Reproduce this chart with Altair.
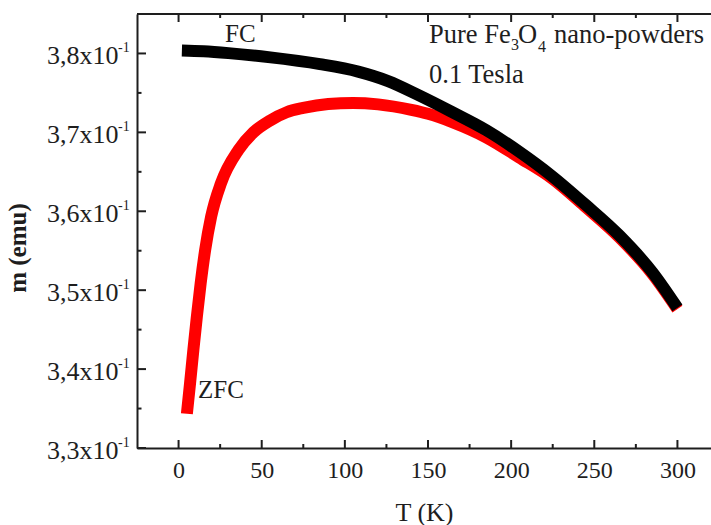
import altair as alt
import pandas as pd

# ---- data ----
T_FC = [2, 15, 30, 54, 85, 108, 126, 144, 164, 185, 205, 224, 245, 265, 285, 300]
M_FC = [0.38037, 0.38027, 0.38004, 0.37953, 0.37865, 0.37770, 0.37650, 0.37475,
        0.37263, 0.37028, 0.36752, 0.36455, 0.36078, 0.35695, 0.35225, 0.34775]

T_ZFC = [5.0, 6.9, 8.9, 11.0, 13.3, 16.0, 19.6, 25.5, 36.0, 45, 55, 65, 75, 90, 105,
         120, 140, 150, 165, 185, 205, 225, 245, 265, 285, 300]
M_ZFC = [0.33434, 0.33820, 0.34244, 0.34666, 0.35089, 0.35511, 0.35933, 0.36355,
         0.36776, 0.37000, 0.37150, 0.37255, 0.37310, 0.37360, 0.37373, 0.37355,
         0.37285, 0.37235, 0.37127, 0.36937, 0.36680, 0.36410, 0.36050, 0.35670,
         0.35205, 0.34760]

X_MAJOR = [0, 50, 100, 150, 200, 250, 300]
X_MINOR = [25, 75, 125, 175, 225, 275]
Y_MAJOR = [0.33, 0.34, 0.35, 0.36, 0.37, 0.38]
Y_MINOR = [0.335, 0.345, 0.355, 0.365, 0.375]

FONT = "Liberation Serif"
INK = "#1e1e1e"
W, H = 574, 434

fc = pd.DataFrame({"T": T_FC, "m": M_FC})
zfc = pd.DataFrame({"T": T_ZFC, "m": M_ZFC})

x_enc = alt.X(
    "T:Q",
    scale=alt.Scale(domain=[-25, 325], range=[0, 582], nice=False, zero=False),
    axis=alt.Axis(
        values=X_MAJOR, title="T (K)", tickSize=0, labelPadding=10,
        labelFontSize=24, labelFont=FONT, labelColor=INK, labelFlush=False,
        titleFont=FONT, titleFontSize=26, titleFontWeight="normal", titleColor=INK,
        titleX=287, titleY=64, titleBaseline="middle", titleAlign="center",
        domainColor=INK, domainWidth=2, grid=False,
    ),
)
y_enc = alt.Y(
    "m:Q",
    scale=alt.Scale(domain=[0.33, 0.385], nice=False, zero=False),
    axis=alt.Axis(
        values=Y_MAJOR, title="", tickSize=0, labelPadding=19,
        labelExpr="replace(format(datum.value * 10, '.1f'), '.', ',') + 'x10'",
        labelFontSize=26, labelFont=FONT, labelColor=INK, labelOffset=2,
        domainColor=INK, domainWidth=2, grid=False,
    ),
)

zfc_line = alt.Chart(zfc).mark_line(
    color="#ff0000", strokeWidth=12, strokeCap="butt", interpolate="monotone"
).encode(x=x_enc, y=y_enc)
fc_line = alt.Chart(fc).mark_line(
    color="#000000", strokeWidth=12, strokeCap="butt", interpolate="monotone"
).encode(x=x_enc, y=y_enc)


def xticks(vals, y0, y1):
    return alt.Chart(pd.DataFrame({"T": vals})).mark_rule(color=INK, strokeWidth=2).encode(
        x=x_enc, y=alt.value(y0), y2=alt.value(y1))


def yticks(vals, x0, x1):
    return alt.Chart(pd.DataFrame({"m": vals})).mark_rule(color=INK, strokeWidth=2).encode(
        y=y_enc, x=alt.value(x0), x2=alt.value(x1))


ticks = [
    xticks(X_MAJOR, H, H - 8), xticks(X_MINOR, H, H - 4),
    xticks(X_MAJOR, 0, 8), xticks(X_MINOR, 0, 4),
    yticks(Y_MAJOR, 0, 9), yticks(Y_MINOR, 0, 4.5),
]

top_frame = alt.Chart(alt.Data(values=[{}])).mark_rule(color=INK, strokeWidth=2).encode(
    x=alt.value(0), x2=alt.value(W), y=alt.value(0))

sup = alt.Chart(pd.DataFrame({"m": Y_MAJOR})).mark_text(
    text="-1", font=FONT, fontSize=14, color=INK, align="left", baseline="alphabetic", dy=-1
).encode(x=alt.value(-19), y=y_enc)


def ann(text, x, y, size, weight="normal", angle=0, align="left", baseline="alphabetic"):
    return alt.Chart(alt.Data(values=[{}])).mark_text(
        text=text, font=FONT, fontSize=size, fontWeight=weight, color=INK,
        align=align, baseline=baseline, angle=angle
    ).encode(x=alt.value(x), y=alt.value(y))


notes = [
    ann("Pure Fe", 292, 29, 26.5),
    ann("3", 374, 36, 16),
    ann("O", 381, 29, 26.5),
    ann("4", 401, 38, 16),
    ann("nano-powders", 417, 29, 26.5),
    ann("0.1 Tesla", 292, 69, 26.5),
    ann("FC", 88, 28, 25),
    ann("ZFC", 61, 384, 25),
    ann("m (emu)", -119, 234, 25, weight="bold", angle=270, align="center", baseline="middle"),
]

chart = alt.layer(zfc_line, fc_line, *ticks, top_frame, sup, *notes).properties(
    width=W, height=H,
    padding={"left": 137, "top": 14, "right": 0, "bottom": 77},
    autosize=alt.AutoSizeParams(type="none"),
    background="white",
).configure_view(stroke="transparent")

chart.save("out.html", embed_options={"renderer": "svg", "actions": False})
